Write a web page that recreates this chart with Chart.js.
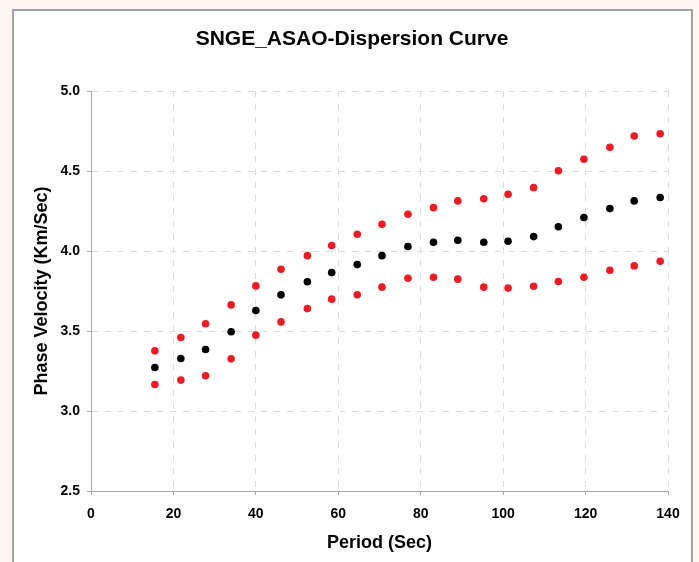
<!DOCTYPE html>
<html>
<head>
<meta charset="utf-8">
<script src="https://cdn.jsdelivr.net/npm/chart.js@4.4.1/dist/chart.umd.min.js"></script>
<style>
  html, body { margin: 0; padding: 0; background: #fcf7f3; }
  #wrap { width: 699px; height: 562px; position: relative; }
</style>
</head>
<body>
<div id="wrap"><canvas id="c" width="699" height="562"></canvas></div>
<script>
// Period (Sec)
const periods = [15.5, 21.8, 27.8, 34.0, 40.0, 46.1, 52.5, 58.4, 64.6, 70.6, 76.9,
                 83.1, 89.0, 95.3, 101.2, 107.4, 113.4, 119.6, 125.9, 131.8, 138.1];
// Phase velocity (Km/Sec) - mean
const velocityMean = [3.272, 3.328, 3.384, 3.495, 3.628, 3.726, 3.808, 3.865, 3.915, 3.971, 4.028,
                      4.055, 4.067, 4.055, 4.061, 4.090, 4.152, 4.209, 4.265, 4.313, 4.334];
// upper bound
const velocityUpper = [3.376, 3.459, 3.545, 3.663, 3.782, 3.886, 3.971, 4.034, 4.105, 4.167, 4.230,
                       4.271, 4.313, 4.327, 4.355, 4.396, 4.502, 4.573, 4.648, 4.719, 4.733];
// lower bound
const velocityLower = [3.166, 3.193, 3.220, 3.326, 3.474, 3.557, 3.640, 3.699, 3.726, 3.774, 3.830,
                       3.836, 3.824, 3.774, 3.768, 3.780, 3.809, 3.836, 3.880, 3.907, 3.936];

const xTicks = [0, 20, 40, 60, 80, 100, 120, 140];
const yTicks = [2.5, 3.0, 3.5, 4.0, 4.5, 5.0];

const toPts = (vals) => periods.map((p, i) => ({ x: p, y: vals[i] }));

const frame = {
  id: 'frame',
  beforeDraw(chart) {
    const ctx = chart.ctx;
    ctx.save();
    ctx.fillStyle = '#fcf7f3';
    ctx.fillRect(0, 0, chart.width, chart.height);
    ctx.fillStyle = '#ffffff';
    ctx.fillRect(13, 10, 679, chart.height);
    ctx.strokeStyle = '#a3a3a3';
    ctx.lineWidth = 2;
    ctx.strokeRect(13, 10, 679, chart.height + 10);
    ctx.restore();
  }
};

const tickFont = { family: 'Arial, "Liberation Sans", sans-serif', size: 14, weight: 'bold' };
const titleFont = { family: 'Arial, "Liberation Sans", sans-serif', size: 18, weight: 'bold' };

new Chart(document.getElementById('c'), {
  type: 'scatter',
  data: {
    datasets: [
      { label: 'Upper', data: toPts(velocityUpper), backgroundColor: '#ec1c24', borderColor: '#ec1c24', pointRadius: 3.8, pointBorderWidth: 0 },
      { label: 'Mean', data: toPts(velocityMean), backgroundColor: '#000000', borderColor: '#000000', pointRadius: 3.8, pointBorderWidth: 0 },
      { label: 'Lower', data: toPts(velocityLower), backgroundColor: '#ec1c24', borderColor: '#ec1c24', pointRadius: 3.8, pointBorderWidth: 0 }
    ]
  },
  options: {
    responsive: false,
    animation: false,
    devicePixelRatio: 1,
    layout: { padding: { left: 5, right: 0, top: 0, bottom: 0 } },
    plugins: {
      legend: { display: false },
      tooltip: { enabled: false },
      title: {
        display: true,
        text: 'SNGE_ASAO-Dispersion Curve',
        color: '#000',
        font: { family: 'Arial, "Liberation Sans", sans-serif', size: 21, weight: 'bold' },
        padding: { top: 27, bottom: 38.8 }
      }
    },
    scales: {
      x: {
        type: 'linear',
        min: 0, max: 140,
        afterBuildTicks(scale) { scale.ticks = xTicks.map(v => ({ value: v })); },
        afterFit(scale) { scale.height = 71; },
        ticks: { color: '#000', font: tickFont, padding: 11, maxRotation: 0 },
        grid: { color: '#dcdcdc', lineWidth: 1, tickLength: 4, tickColor: '#a8a8a8', tickBorderDash: [] },
        border: { color: '#a8a8a8', width: 1, dash: [6, 7] },
        title: { display: true, text: 'Period (Sec)', color: '#000', font: titleFont, padding: { top: 0, bottom: 8 } }
      },
      y: {
        type: 'linear',
        min: 2.5, max: 5.0,
        afterBuildTicks(scale) { scale.ticks = yTicks.map(v => ({ value: v })); },
        afterFit(scale) { scale.width = 86; },
        ticks: { color: '#000', font: tickFont, padding: 7, callback: v => Number(v).toFixed(1) },
        grid: { color: '#dcdcdc', lineWidth: 1, tickLength: 4, tickColor: '#a8a8a8', tickBorderDash: [] },
        border: { color: '#a8a8a8', width: 1, dash: [6, 7] },
        title: { display: true, text: 'Phase Velocity (Km/Sec)', color: '#000', font: titleFont, padding: { top: 26, bottom: 0 } }
      },
      yRight: {
        type: 'linear',
        position: 'right',
        min: 2.5, max: 5.0,
        afterFit(scale) { scale.width = 31; },
        ticks: { display: false },
        grid: { display: false, drawOnChartArea: false },
        border: { display: false },
        title: { display: false }
      }
    }
  },
  plugins: [frame]
});
</script>
</body>
</html>
